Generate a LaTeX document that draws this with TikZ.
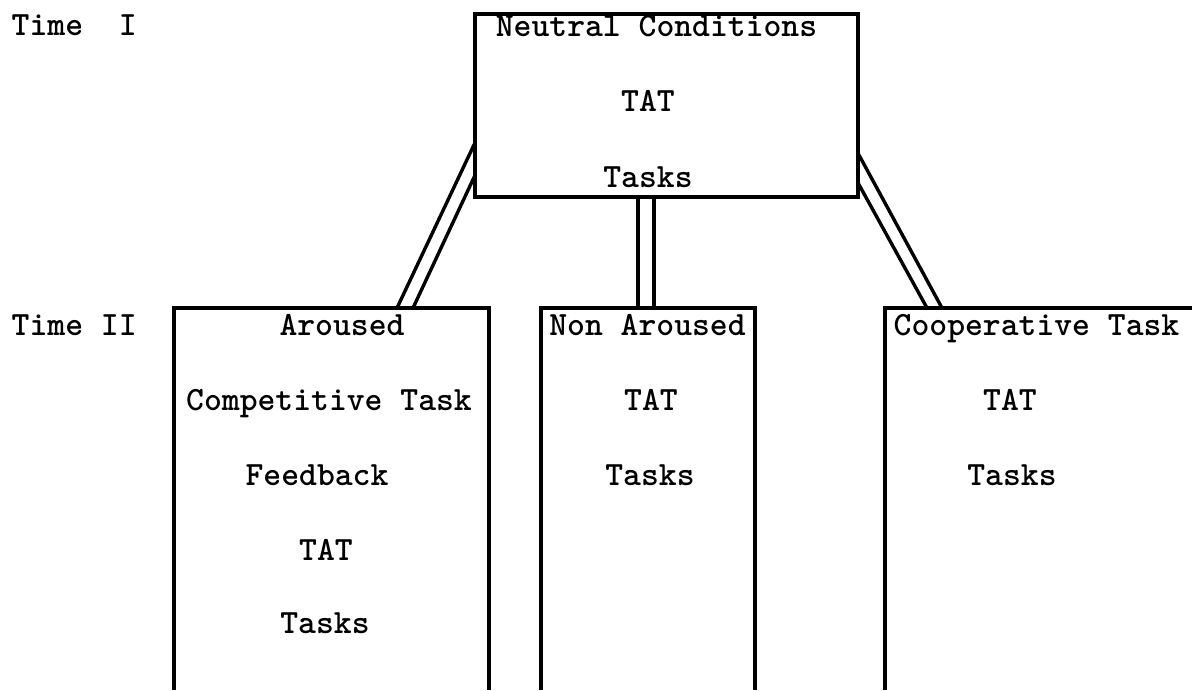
\documentclass[tikz,border=0pt]{standalone}
\usepackage{fontspec}
\usetikzlibrary{positioning}

\begin{document}
\begin{tikzpicture}[x=0.5pt, y=-0.5pt, line width=1.7pt,
    stage/.style={inner sep=0pt, outer sep=0pt},
    entry/.style={anchor=base, inner sep=0pt, font=\fontsize{17}{20}\selectfont\ttfamily\bfseries}]
    \useasboundingbox (0,0) rectangle (1192,690);
    % boxes
    \node[stage, draw, minimum width=191.5pt, minimum height=91.5pt] (neutral) at (666.5,105.5) {};
    \node[stage, minimum width=157.5pt, minimum height=191pt] (aroused) at (331.5,499) {};
    \node[stage, minimum width=107pt, minimum height=191pt] (nonaroused) at (648,499) {};
    \node[stage, minimum width=153.5pt, minimum height=191pt] (cooperative) at (1038.5,499) {};

    \draw (aroused.south west) -- (aroused.north west) -- (aroused.north east) -- (aroused.south east);
    \draw (nonaroused.south west) -- (nonaroused.north west) -- (nonaroused.north east) -- (nonaroused.south east);
    \draw (cooperative.south west) -- (cooperative.north west) -- (cooperative.north east);

    % time labels
    \node[entry, anchor=base west] (time_1) at (10,36) {Time~~I};
    \node[entry, anchor=base west] (time_2) at (10,335) {Time II};

    % texts
    \node[entry] (neutral_1) at (656.5,37) {Neutral Conditions};
    \node[entry] (neutral_2) at (648,112) {TAT};
    \node[entry] (neutral_3) at (648,187) {Tasks};

    \node[entry] (aroused_1) at (342,335) {Aroused};
    \node[entry] (aroused_2) at (329,410) {Competitive Task};
    \node[entry] (aroused_3) at (317,485) {Feedback};
    \node[entry] (aroused_4) at (326,560) {TAT};
    \node[entry] (aroused_5) at (325,633) {Tasks};

    \node[entry] (nonaroused_1) at (647.5,335) {Non Aroused};
    \node[entry] (nonaroused_2) at (651,410) {TAT};
    \node[entry] (nonaroused_3) at (650,485) {Tasks};

    \node[entry] (cooperative_1) at (1036.5,335) {Cooperative Task};
    \node[entry] (cooperative_2) at (1010,410) {TAT};
    \node[entry] (cooperative_3) at (1012,485) {Tasks};

    % dot
    \coordinate [right=32.75pt of aroused.north] (dot1);
    \coordinate [right=40.75pt of aroused.north] (dot2);
    \coordinate [left=5pt of nonaroused.north] (dot3);
    \coordinate [right=3pt of nonaroused.north] (dot4);
    \coordinate [right=21pt of cooperative.north west] (dot5);
    \coordinate [right=28.5pt of cooperative.north west] (dot6);

    \draw (neutral.191.1) -- (dot1);
    \draw (neutral.200.7) -- (dot2);
    \draw (dot3|-neutral.south) -- (dot3);
    \draw (dot4|-neutral.south) -- (dot4);
    \draw (neutral.338.7) -- (dot5);
    \draw (neutral.346.1) -- (dot6);
\end{tikzpicture}
\end{document}
